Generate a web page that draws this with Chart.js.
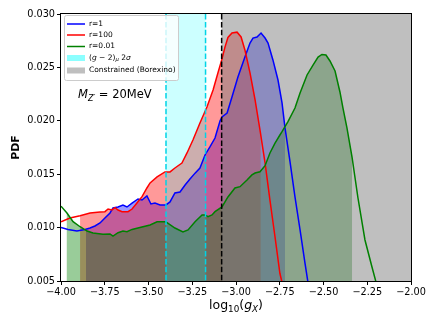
<!DOCTYPE html>
<html><head><meta charset="utf-8">
<script src="https://cdn.jsdelivr.net/npm/chart.js@4/dist/chart.umd.min.js"></script>
<style>html,body{margin:0;padding:0;background:#fff}</style>
</head><body>
<canvas id="c" width="436" height="327"></canvas>
<script>
// ---- data ----
const xTicks = [-4.00,-3.75,-3.50,-3.25,-3.00,-2.75,-2.50,-2.25,-2.00];
const yTicks = [0.005,0.010,0.015,0.020,0.025,0.030];

const blueX = [-4.000,-3.960,-3.909,-3.863,-3.834,-3.806,-3.777,-3.749,-3.720,-3.703,-3.674,-3.646,-3.623,-3.594,-3.560,-3.537,-3.509,-3.486,-3.463,-3.434,-3.400,-3.377,-3.349,-3.320,-3.291,-3.263,-3.234,-3.206,-3.177,-3.149,-3.120,-3.091,-3.080,-3.051,-3.023,-2.989,-2.949,-2.920,-2.903,-2.880,-2.857,-2.834,-2.817,-2.789,-2.760,-2.737,-2.720,-2.691,-2.663,-2.634,-2.606,-2.589,-2.570];
const blueY = [0.01001,0.00982,0.00968,0.00982,0.00996,0.01015,0.01043,0.01090,0.01137,0.01184,0.01193,0.01212,0.01193,0.01230,0.01268,0.01258,0.01296,0.01221,0.01230,0.01212,0.01212,0.01240,0.01324,0.01333,0.01399,0.01455,0.01510,0.01558,0.01680,0.01755,0.01839,0.02000,0.02036,0.02073,0.02223,0.02410,0.02597,0.02728,0.02775,0.02785,0.02822,0.02775,0.02728,0.02570,0.02382,0.02167,0.01933,0.01614,0.01287,0.00978,0.00669,0.00490,0.00300];

const redX = [-4.000,-3.949,-3.891,-3.834,-3.777,-3.749,-3.731,-3.709,-3.691,-3.674,-3.651,-3.617,-3.594,-3.566,-3.537,-3.509,-3.491,-3.451,-3.406,-3.377,-3.349,-3.309,-3.280,-3.246,-3.206,-3.166,-3.131,-3.103,-3.080,-3.063,-3.046,-3.023,-2.994,-2.971,-2.949,-2.920,-2.891,-2.863,-2.834,-2.806,-2.777,-2.749,-2.720];
const redY = [0.01055,0.01090,0.01111,0.01137,0.01146,0.01149,0.01174,0.01165,0.01186,0.01165,0.01149,0.01149,0.01174,0.01230,0.01290,0.01371,0.01418,0.01474,0.01521,0.01521,0.01558,0.01605,0.01699,0.01820,0.01979,0.02129,0.02288,0.02450,0.02580,0.02690,0.02780,0.02822,0.02830,0.02785,0.02663,0.02448,0.02195,0.01914,0.01605,0.01258,0.00912,0.00570,0.00370];

const greenX = [-4.000,-3.966,-3.931,-3.891,-3.851,-3.817,-3.760,-3.720,-3.703,-3.674,-3.646,-3.623,-3.594,-3.549,-3.491,-3.451,-3.406,-3.394,-3.349,-3.303,-3.274,-3.234,-3.194,-3.177,-3.160,-3.137,-3.120,-3.080,-3.046,-3.006,-2.977,-2.937,-2.909,-2.891,-2.863,-2.834,-2.806,-2.777,-2.749,-2.737,-2.703,-2.663,-2.634,-2.594,-2.560,-2.531,-2.509,-2.486,-2.463,-2.434,-2.406,-2.389,-2.366,-2.337,-2.303,-2.263,-2.223,-2.200,-2.170];
const greenY = [0.01200,0.01137,0.01055,0.01008,0.00968,0.00949,0.00937,0.00940,0.00920,0.00952,0.00968,0.00961,0.00983,0.01001,0.01024,0.01055,0.01055,0.01046,0.00996,0.00959,0.00978,0.01055,0.01118,0.01118,0.01102,0.01118,0.01149,0.01193,0.01287,0.01371,0.01383,0.01446,0.01493,0.01511,0.01523,0.01580,0.01699,0.01790,0.01867,0.01898,0.01992,0.02120,0.02260,0.02429,0.02522,0.02597,0.02621,0.02616,0.02560,0.02466,0.02270,0.02120,0.01933,0.01661,0.01277,0.00884,0.00631,0.00490,0.00350];

const blueRange  = [-3.857, -2.720];
const redRange   = [-3.891, -2.859];
const greenRange = [-3.967, -2.337];
const gm2Band    = [-3.400, -3.174];
const borexBand  = [-3.082, -2.000];
const labels = ['r=1', 'r=100', 'r=0.01'];

// ---- build ----
const FONT = '"DejaVu Sans", sans-serif';
const toPts = (xs, ys) => xs.map((v, i) => ({x: v, y: ys[i]}));
const fillSpecs = [
  {ds: 0, range: blueRange,  color: 'rgba(0,0,255,0.4)'},
  {ds: 1, range: redRange,   color: 'rgba(255,0,0,0.4)'},
  {ds: 2, range: greenRange, color: 'rgba(0,128,0,0.4)'}
];

function drawText(ctx, parts, x, y) {
  // parts: [text, size, style, dy]
  parts.forEach(p => {
    ctx.font = (p[2] || '') + ' ' + p[1] + 'px ' + FONT;
    ctx.fillText(p[0], x, y + (p[3] || 0));
    x += ctx.measureText(p[0]).width;
  });
  return x;
}
function partsWidth(ctx, parts) {
  let w = 0;
  parts.forEach(p => { ctx.font = (p[2] || '') + ' ' + p[1] + 'px ' + FONT; w += ctx.measureText(p[0]).width; });
  return w;
}

const overlay = {
  id: 'overlay',
  beforeDatasetsDraw(chart) {
    const {ctx, chartArea: a, scales: {x}} = chart;
    const px = v => x.getPixelForValue(v);
    fillSpecs.forEach(f => {
      const pts = chart.getDatasetMeta(f.ds).data;
      ctx.save();
      ctx.beginPath();
      ctx.rect(px(f.range[0]), a.top, px(f.range[1]) - px(f.range[0]), a.bottom - a.top);
      ctx.clip();
      ctx.beginPath();
      ctx.moveTo(pts[0].x, a.bottom);
      pts.forEach(p => ctx.lineTo(p.x, p.y));
      ctx.lineTo(pts[pts.length - 1].x, a.bottom);
      ctx.closePath();
      ctx.fillStyle = f.color;
      ctx.fill();
      ctx.restore();
    });
    ctx.save();
    ctx.fillStyle = 'rgba(0,255,255,0.2)';
    ctx.fillRect(px(gm2Band[0]), a.top, px(gm2Band[1]) - px(gm2Band[0]), a.bottom - a.top);
    ctx.fillStyle = 'rgba(128,128,128,0.5)';
    ctx.fillRect(px(borexBand[0]), a.top, px(borexBand[1]) - px(borexBand[0]), a.bottom - a.top);
    ctx.restore();
  },
  afterDatasetsDraw(chart) {
    const {ctx, chartArea: a, scales: {x}} = chart;
    const px = v => x.getPixelForValue(v);
    ctx.save();
    ctx.lineWidth = 1.5;
    ctx.setLineDash([5.5, 2.4]);
    ctx.strokeStyle = '#00d4e6';
    gm2Band.forEach(v => { ctx.beginPath(); ctx.moveTo(px(v), a.top); ctx.lineTo(px(v), a.bottom); ctx.stroke(); });
    ctx.strokeStyle = '#000';
    ctx.beginPath(); ctx.moveTo(px(borexBand[0]), a.top); ctx.lineTo(px(borexBand[0]), a.bottom); ctx.stroke();
    ctx.setLineDash([]);
    // frame
    ctx.lineWidth = 1;
    ctx.strokeStyle = '#000';
    ctx.strokeRect(Math.round(a.left) - 0.5, Math.round(a.top) - 0.5, Math.round(a.right - a.left) + 1, Math.round(a.bottom - a.top) + 1);

    // legend
    const lx = a.left + 3, ly = a.top + 1, lw = 114, lh = 65;
    ctx.beginPath();
    ctx.roundRect(lx + 0.5, ly + 0.5, lw, lh, 2);
    ctx.fillStyle = 'rgba(255,255,255,0.8)';
    ctx.fill();
    ctx.strokeStyle = '#cccccc';
    ctx.lineWidth = 1;
    ctx.stroke();
    const rows = [ly + 9, ly + 20, ly + 31.5, ly + 43, ly + 55.5];
    const hx0 = lx + 3, hx1 = lx + 21, tx = lx + 25;
    const cols = ['#0000ff', '#ff0000', '#008000'];
    ctx.fillStyle = '#000';
    ctx.textBaseline = 'middle';
    ctx.textAlign = 'left';
    for (let i = 0; i < 3; i++) {
      ctx.strokeStyle = cols[i]; ctx.lineWidth = 1.5;
      ctx.beginPath(); ctx.moveTo(hx0, rows[i]); ctx.lineTo(hx1, rows[i]); ctx.stroke();
      ctx.fillStyle = '#000';
      ctx.font = '7.5px ' + FONT;
      ctx.fillText(labels[i], tx, rows[i]);
    }
    ctx.fillStyle = 'rgba(0,255,255,0.45)';
    ctx.fillRect(hx0, rows[3] - 3, hx1 - hx0, 6);
    ctx.fillStyle = 'rgba(128,128,128,0.5)';
    ctx.fillRect(hx0, rows[4] - 3, hx1 - hx0, 6);
    ctx.fillStyle = '#000';
    drawText(ctx, [['(', 7.5], ['g', 7.5, 'italic'], [' \u2212 2)', 7.5], ['\u03bc', 5.3, 'italic', 2], [' 2', 7.5], ['\u03c3', 7.5, 'italic']], tx, rows[3]);
    ctx.font = '7.5px ' + FONT;
    ctx.fillText('Constrained (Borexino)', tx, rows[4]);

    // M_Z' label
    ctx.textBaseline = 'alphabetic';
    drawText(ctx, [['M', 11.5, 'italic'], ['Z\u2032', 8, 'italic', 2.5], [' = 20MeV', 11.5]], a.left + 17, a.top + 84);

    // axis titles
    const xt = [['log', 12.5], ['10', 8.8, '', 3], ['(', 12.5], ['g', 12.5, 'italic'], ['X', 8.8, 'italic', 3], [')', 12.5]];
    const w = partsWidth(ctx, xt);
    drawText(ctx, xt, (a.left + a.right) / 2 - w / 2, 309);
    ctx.save();
    ctx.translate(16, (a.top + a.bottom) / 2);
    ctx.rotate(-Math.PI / 2);
    ctx.font = 'bold 11px ' + FONT;
    ctx.textAlign = 'center';
    ctx.textBaseline = 'middle';
    ctx.fillText('PDF', 0, 0);
    ctx.restore();
    ctx.restore();
  }
};

new Chart(document.getElementById('c'), {
  type: 'line',
  data: {
    datasets: [
      {label: labels[0], data: toPts(blueX, blueY), borderColor: '#0000ff', borderWidth: 1.5, order: 3},
      {label: labels[1], data: toPts(redX, redY), borderColor: '#ff0000', borderWidth: 1.5, order: 2},
      {label: labels[2], data: toPts(greenX, greenY), borderColor: '#008000', borderWidth: 1.5, order: 1}
    ].map(d => Object.assign(d, {pointRadius: 0, fill: false, tension: 0, backgroundColor: 'transparent'}))
  },
  options: {
    responsive: false,
    animation: false,
    devicePixelRatio: 1,
    layout: {padding: {left: 0, right: 25, top: 14, bottom: 0}},
    plugins: {legend: {display: false}, tooltip: {enabled: false}, title: {display: false}},
    scales: {
      x: {
        type: 'linear', min: -4, max: -2,
        afterBuildTicks: s => { s.ticks = xTicks.map(v => ({value: v})); },
        afterFit: s => { s.height = 46; },
        ticks: {callback: v => (v < 0 ? '\u2212' : '') + Math.abs(v).toFixed(2), font: {family: FONT, size: 9.7}, color: '#000', padding: 2, maxRotation: 0, autoSkip: false},
        grid: {drawOnChartArea: false, tickLength: 4, tickColor: '#000', tickWidth: 1},
        border: {display: false}
      },
      y: {
        type: 'linear', min: 0.005, max: 0.030,
        afterBuildTicks: s => { s.ticks = yTicks.map(v => ({value: v})); },
        afterFit: s => { s.width = 61; },
        ticks: {callback: v => v.toFixed(3), font: {family: FONT, size: 9.7}, color: '#000', padding: 2},
        grid: {drawOnChartArea: false, tickLength: 4, tickColor: '#000', tickWidth: 1},
        border: {display: false}
      }
    }
  },
  plugins: [overlay]
});
</script></body></html>
